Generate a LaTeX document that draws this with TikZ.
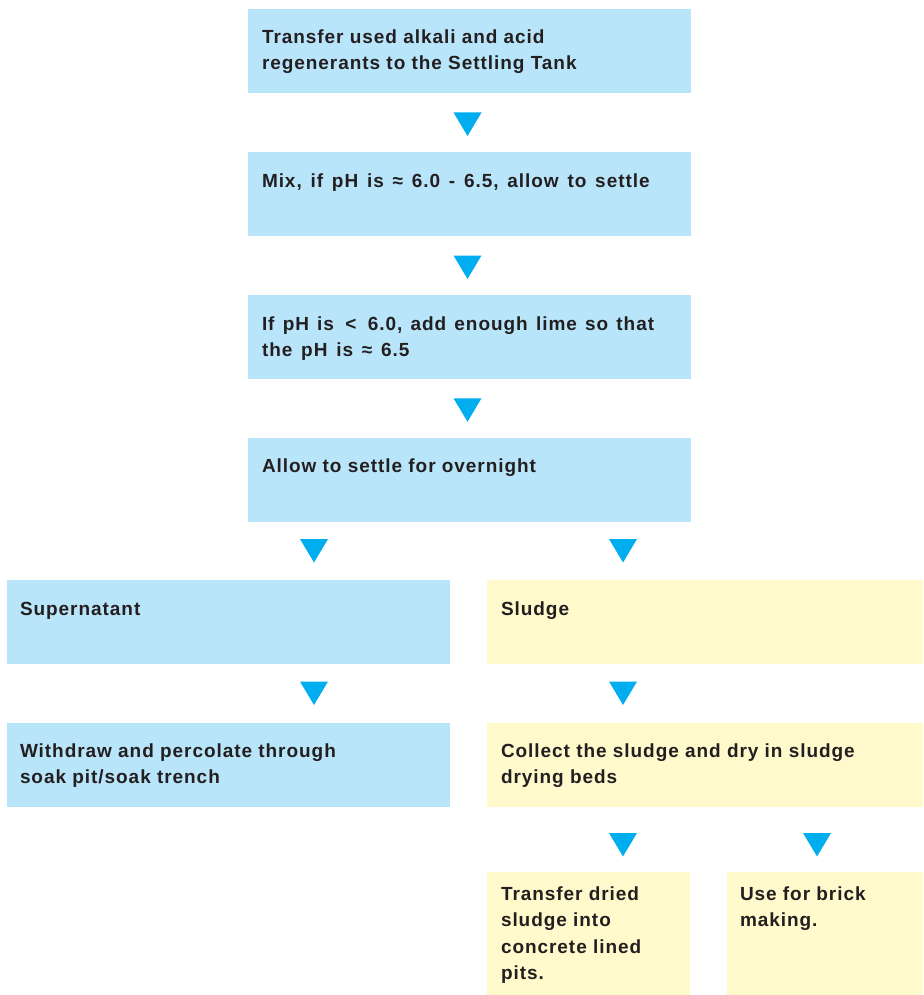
\documentclass[tikz,border=0pt]{standalone}
\usepackage{fontspec}
\setmainfont{Liberation Sans}[LetterSpace=5]
\usetikzlibrary{calc}
\definecolor{boxblue}{HTML}{B9E5FA}
\definecolor{boxyellow}{HTML}{FFF9CC}
\definecolor{triblue}{HTML}{00AEEF}
\definecolor{txtgray}{HTML}{231F20}
\newcommand{\fstrut}{\rule{0pt}{15pt}}
\tikzset{
  boxbase/.style={inner sep=0pt, outer sep=0pt, anchor=north west, draw=none},
  bluebox/.style={boxbase, fill=boxblue},
  yellowbox/.style={boxbase, fill=boxyellow},
  txt/.style={inner sep=0pt, outer sep=0pt, anchor=north west, align=left, text=txtgray,
    font=\fontsize{19}{26}\selectfont\bfseries},
  txtb/.style={txt, font=\fontsize{19}{26.5}\selectfont\bfseries},
  tri/.pic={\fill[triblue] (-14,0) -- (14,0) -- (0,23.5) -- cycle;}
}
\begin{document}
\begin{tikzpicture}[x=1pt,y=-1pt]
\useasboundingbox (0,0) rectangle (923,995);
% boxes
\node[bluebox, minimum width=443pt, minimum height=84pt] (b1) at (248,9) {};
\node[bluebox, minimum width=443pt, minimum height=84pt] (b2) at (248,152) {};
\node[bluebox, minimum width=443pt, minimum height=84pt] (b3) at (248,295) {};
\node[bluebox, minimum width=443pt, minimum height=84pt] (b4) at (248,437.5) {};
\node[bluebox, minimum width=443pt, minimum height=84pt] (b5) at (7,580) {};
\node[yellowbox, minimum width=436pt, minimum height=84pt] (b6) at (487,580) {};
\node[bluebox, minimum width=443pt, minimum height=84pt] (b7) at (7,722.5) {};
\node[yellowbox, minimum width=436pt, minimum height=84pt] (b8) at (487,722.5) {};
\node[yellowbox, minimum width=203pt, minimum height=123pt] (b9) at (487,872) {};
\node[yellowbox, minimum width=196pt, minimum height=123pt] (b10) at (727,872) {};
% texts
\node[txt] (l1) at ($(b1.north west)+(14,20)$) {\fstrut Transfer used alkali and acid\\regenerants to the Settling Tank};
\node[txt] (l2) at ($(b2.north west)+(14,20)$) {\spaceskip=8.8pt\fstrut Mix, if pH is ≈ 6.0 - 6.5, allow to settle};
\node[txt] (l3) at ($(b3.north west)+(14,20)$) {\spaceskip=8.2pt\fstrut If pH is \,<\, 6.0, add enough lime so that\\\spaceskip=8.8pt the pH is ≈ 6.5};
\node[txt] (l4) at ($(b4.north west)+(14,20)$) {\fstrut Allow to settle for overnight};
\node[txt] (l5) at ($(b5.north west)+(13,20)$) {\fstrut Supernatant};
\node[txt] (l6) at ($(b6.north west)+(14,20)$) {\fstrut Sludge};
\node[txt] (l7) at ($(b7.north west)+(13,20)$) {\fstrut Withdraw and percolate through\\soak pit/soak trench};
\node[txt] (l8) at ($(b8.north west)+(14,20)$) {\fstrut Collect the sludge and dry in sludge\\drying beds};
\node[txtb] (l9) at ($(b9.north west)+(14,13)$) {\fstrut Transfer dried\\sludge into\\concrete lined\\pits.};
\node[txtb] (l10) at ($(b10.north west)+(13,13)$) {\fstrut Use for brick\\making.};
% arrow triangles
\pic (a1) at ($(b1.south)!0.5!(b2.north)+(-2,-10)$) {tri};
\pic (a2) at ($(b2.south)!0.5!(b3.north)+(-2,-10)$) {tri};
\pic (a3) at ($(b3.south)!0.5!(b4.north)+(-2,-10)$) {tri};
\pic (a4) at ($(b5.north west)+(307,-41)$) {tri};
\pic (a5) at ($(b6.north west)+(136,-41)$) {tri};
\pic (a6) at ($(b7.north west)+(307,-41)$) {tri};
\pic (a7) at ($(b8.north west)+(136,-41)$) {tri};
\pic (a8) at ($(b9.north west)+(136,-39)$) {tri};
\pic (a9) at ($(b10.north west)+(90,-39)$) {tri};
\end{tikzpicture}
\end{document}
